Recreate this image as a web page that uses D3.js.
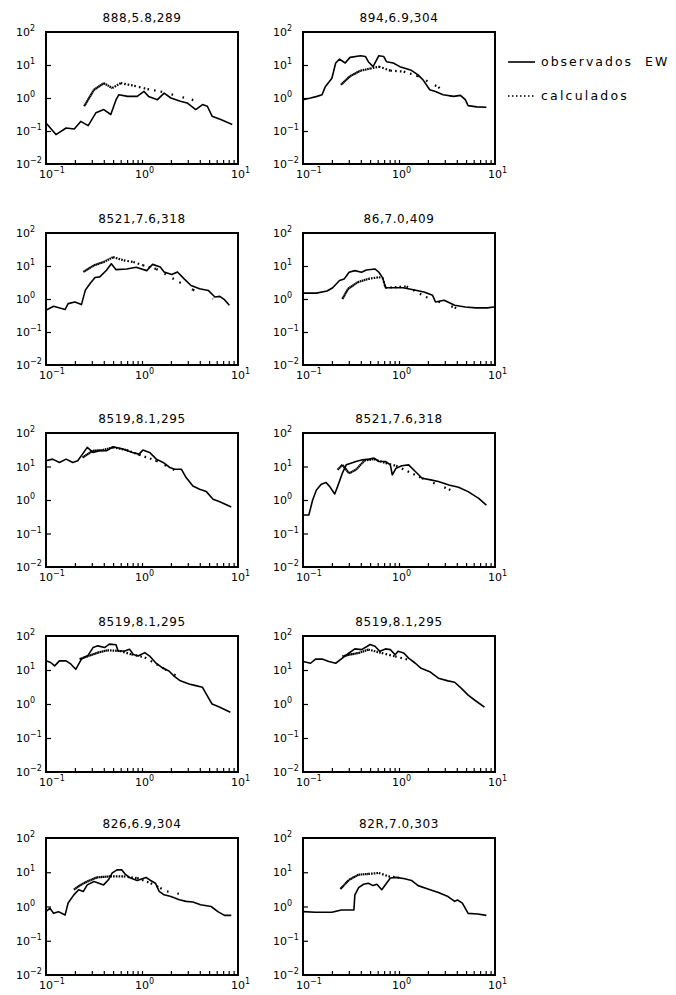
<!DOCTYPE html>
<html>
<head>
<meta charset="utf-8">
<title>espectros observados y calculados</title>
<script src="https://cdnjs.cloudflare.com/ajax/libs/d3/7.8.5/d3.min.js"></script>
<style>
  body { margin: 0; background: #fff; }
  svg { display: block; }
  text { font-family: "DejaVu Sans", sans-serif; fill: #000; }
  .frame { fill: none; stroke: #000; stroke-width: 2; }
  .obs { fill: none; stroke: #000; stroke-width: 1.6; stroke-linejoin: round; }
  .calc { fill: none; stroke: #000; stroke-width: 2.2; }
  .tick line { stroke: #000; stroke-width: 1.2; }
</style>
</head>
<body>
<script>
// panel titles, row by row
var titles = ['888,5.8,289', '894,6.9,304', '8521,7.6,318', '86,7.0,409', '8519,8.1,295',
              '8521,7.6,318', '8519,8.1,295', '8519,8.1,295', '826,6.9,304', '82R,7.0,303'];

// axis ticks
var xTickVals = [0.1, 1, 10];
var xTickExp = ['\u22121', '0', '1'];
var yTickVals = [0.01, 0.1, 1, 10, 100];
var yTickExp = ['\u22122', '\u22121', '0', '1', '2'];

// [period, amplitude]
var obs1 = [[0.1,0.175],[0.127,0.078],[0.162,0.123],[0.197,0.115],[0.23,0.195],[0.275,0.145],[0.331,0.355],[0.40,0.447],[0.473,0.316],[0.537,0.89],[0.575,1.26],[0.708,1.12],[0.891,1.12],[1.05,1.58],[1.17,1.12],[1.45,0.89],[1.70,1.41],[2.0,1.0],[2.51,0.794],[2.95,0.708],[3.63,0.447],[4.27,0.631],[4.79,0.562],[5.37,0.282],[6.61,0.224],[8.71,0.158]];
var calc1 = [[0.25,0.562],[0.316,1.78],[0.40,2.82],[0.49,2.0],[0.60,2.82],[0.83,2.34],[1.14,1.86],[1.56,1.58],[3.3,0.89],[5.1,0.59]];

var obs2 = [[0.1,0.89],[0.12,1.0],[0.14,1.12],[0.158,1.26],[0.17,2.14],[0.2,3.98],[0.219,11.5],[0.24,15.1],[0.275,11.5],[0.309,17.0],[0.398,19.1],[0.447,18.2],[0.479,12.6],[0.537,8.91],[0.617,19.1],[0.692,18.2],[0.741,12.6],[0.871,11.5],[1.02,8.91],[1.32,7.08],[1.58,5.01],[1.78,3.55],[2.09,1.78],[2.40,1.58],[2.88,1.26],[3.72,1.12],[4.37,1.20],[4.90,0.89],[5.25,0.589],[6.46,0.537],[8.13,0.525]];
var calc2 = [[0.248,2.51],[0.309,4.57],[0.398,6.76],[0.5,7.76],[0.617,8.91],[0.813,6.76],[1.12,6.31],[1.55,4.68],[2.57,2.14],[3.47,1.12]];

var obs3 = [[0.1,0.457],[0.12,0.603],[0.158,0.479],[0.17,0.724],[0.2,0.813],[0.234,0.676],[0.257,1.86],[0.288,2.95],[0.324,4.47],[0.363,4.68],[0.427,7.41],[0.479,11.7],[0.537,7.76],[0.692,8.13],[0.871,9.12],[1.12,7.24],[1.29,11.2],[1.55,9.33],[1.70,6.61],[2.04,5.50],[2.34,6.61],[2.75,4.07],[3.24,2.57],[3.98,2.04],[4.90,1.82],[5.75,1.15],[6.46,1.20],[7.24,0.955],[8.13,0.646]];
var calc3 = [[0.245,6.61],[0.316,10.5],[0.398,13.2],[0.5,18.6],[0.646,14.8],[0.813,13.2],[1.02,10.5],[1.41,8.13],[2.45,3.24],[3.39,1.91],[5.50,1.02]];

var obs4 = [[0.1,1.51],[0.138,1.51],[0.178,1.74],[0.204,2.19],[0.24,3.63],[0.269,4.07],[0.302,6.46],[0.347,7.24],[0.407,6.46],[0.457,7.59],[0.562,8.13],[0.617,6.46],[0.676,4.37],[0.724,2.19],[0.851,2.19],[1.10,2.19],[1.41,1.91],[1.82,1.62],[2.24,1.29],[2.40,0.813],[2.95,0.912],[3.80,0.646],[4.90,0.575],[6.31,0.537],[8.32,0.537],[9.77,0.575]];
var calc4 = [[0.257,1.0],[0.295,2.04],[0.372,3.24],[0.479,4.07],[0.617,4.57],[0.676,4.37],[0.724,2.19],[1.20,2.40],[1.91,1.15],[3.80,0.55],[5.75,0.407]];

var obs5 = [[0.1,14.8],[0.117,16.6],[0.138,13.2],[0.162,16.6],[0.19,13.2],[0.214,14.8],[0.24,23.4],[0.269,37.2],[0.309,26.3],[0.363,29.5],[0.427,29.5],[0.5,38.9],[0.631,33.1],[0.794,26.3],[0.933,23.4],[1.02,30.9],[1.20,26.3],[1.41,16.6],[1.66,13.2],[1.95,9.33],[2.19,8.32],[2.57,8.32],[2.88,4.68],[3.39,2.63],[3.98,2.09],[4.68,1.78],[5.50,1.05],[6.46,0.891],[8.51,0.617]];
var calc5 = [[0.24,18.6],[0.309,29.5],[0.389,30.9],[0.5,37.2],[0.692,30.9],[0.933,22.4],[1.41,14.8],[2.45,6.61]];

var obs6 = [[0.1,0.355],[0.115,0.355],[0.126,1.0],[0.138,2.0],[0.155,2.95],[0.174,3.31],[0.19,2.51],[0.214,1.51],[0.229,2.51],[0.257,6.31],[0.282,11.2],[0.316,12.6],[0.355,14.1],[0.417,15.8],[0.49,16.6],[0.55,17.8],[0.617,14.1],[0.724,14.1],[0.813,11.2],[0.851,5.62],[0.933,8.91],[1.07,10.5],[1.26,11.2],[1.48,7.08],[1.74,4.47],[2.14,3.98],[2.57,3.55],[3.31,2.82],[4.17,2.40],[5.25,1.78],[6.76,1.12],[8.13,0.708]];
var calc6 = [[0.229,7.94],[0.257,11.2],[0.302,6.31],[0.355,7.94],[0.437,15.1],[0.55,16.6],[0.724,12.6],[0.933,10.5],[1.74,4.47],[3.31,2.09],[4.90,1.17]];

var obs7 = [[0.1,18.6],[0.112,16.6],[0.123,13.2],[0.138,18.6],[0.162,18.6],[0.182,14.8],[0.204,10.5],[0.234,20.9],[0.275,27.5],[0.309,45.7],[0.347,51.3],[0.407,45.7],[0.457,57.5],[0.537,55.0],[0.562,36.3],[0.661,36.3],[0.741,40.7],[0.813,28.8],[0.912,25.7],[1.07,32.4],[1.20,25.7],[1.38,16.6],[1.62,11.7],[1.91,9.33],[2.14,6.76],[2.51,4.79],[3.09,3.89],[3.63,3.47],[4.27,3.09],[4.79,1.74],[5.37,1.0],[6.31,0.832],[8.32,0.575]];
var calc7 = [[0.224,20.9],[0.275,25.7],[0.347,32.4],[0.437,38.0],[0.589,36.3],[0.776,28.8],[1.07,23.4],[1.74,10.5],[2.51,5.75]];

var obs8 = [[0.1,17.8],[0.120,15.8],[0.135,20.9],[0.158,20.9],[0.186,17.8],[0.219,15.8],[0.257,22.4],[0.302,31.6],[0.347,41.7],[0.407,39.8],[0.468,50.1],[0.5,56.2],[0.562,50.1],[0.631,35.5],[0.724,41.7],[0.813,39.8],[0.912,28.2],[0.977,35.5],[1.12,31.6],[1.26,22.4],[1.48,15.8],[1.70,11.2],[2.09,8.91],[2.57,5.75],[3.24,4.79],[3.80,4.37],[4.47,2.88],[5.25,1.82],[6.17,1.29],[7.76,0.813]];
var calc8 = [[0.257,25.1],[0.302,28.2],[0.38,31.6],[0.479,39.8],[0.661,31.6],[0.912,25.1],[1.26,20.0]];

var obs9 = [[0.1,0.708],[0.11,0.891],[0.12,0.631],[0.135,0.708],[0.158,0.562],[0.17,1.26],[0.195,2.19],[0.219,3.09],[0.245,2.75],[0.269,4.27],[0.316,5.37],[0.355,4.79],[0.398,4.27],[0.447,6.03],[0.49,9.55],[0.55,11.7],[0.617,11.7],[0.676,8.51],[0.759,6.76],[0.891,5.75],[1.10,7.08],[1.23,5.75],[1.38,4.79],[1.51,2.75],[1.70,2.19],[2.0,1.95],[2.45,1.58],[2.88,1.41],[3.39,1.35],[4.07,1.12],[5.25,1.0],[6.17,0.708],[7.24,0.55],[8.51,0.55]];
var calc9 = [[0.195,3.09],[0.229,4.27],[0.269,5.37],[0.339,7.08],[0.468,7.59],[0.646,7.59],[0.891,6.76],[1.23,4.79],[1.55,3.47],[1.82,2.75],[2.45,2.34]];

var obs10 = [[0.1,0.708],[0.135,0.676],[0.2,0.676],[0.251,0.794],[0.339,0.794],[0.347,2.19],[0.38,3.55],[0.427,4.47],[0.479,4.79],[0.537,4.07],[0.589,4.47],[0.661,3.09],[0.741,4.79],[0.813,6.76],[0.933,7.08],[1.15,6.46],[1.35,5.75],[1.58,4.07],[2.0,3.24],[2.57,2.57],[3.24,1.95],[3.80,1.41],[4.07,1.55],[4.57,1.26],[5.25,0.631],[6.61,0.603],[8.13,0.55]];
var calc10 = [[0.245,3.24],[0.302,6.03],[0.38,8.51],[0.479,8.91],[0.617,9.55],[0.776,7.59],[1.07,6.76]];

var obsAll = [obs1, obs2, obs3, obs4, obs5, obs6, obs7, obs8, obs9, obs10];
var calcAll = [calc1, calc2, calc3, calc4, calc5, calc6, calc7, calc8, calc9, calc10];

var W = 676, H = 995;
var colX = [46, 303];
var pw = 192;
var rowY = [32, 233, 433, 636, 838];
var rowH = [132, 132, 134, 136, 137];

var svg = d3.select('body').append('svg')
    .attr('width', W)
    .attr('height', H);

titles.forEach(function(t, i) {
  var row = Math.floor(i / 2), col = i % 2;
  var x0 = colX[col], y0 = rowY[row], ph = rowH[row];

  var x = d3.scaleLog().domain([0.1, 10]).range([x0, x0 + pw]);
  var y = d3.scaleLog().domain([0.01, 100]).range([y0 + ph, y0]);

  var g = svg.append('g');

  // inner ticks, bottom: every log step; left: every decade
  var minor = x.ticks().filter(function(v) { return v > 0.1 && v < 10; });
  g.append('g')
    .attr('transform', 'translate(0,' + (y0 + ph) + ')')
    .call(d3.axisBottom(x).tickValues(minor).tickSize(-4).tickFormat(''))
    .call(function(s) { s.select('.domain').remove(); });

  g.append('g')
    .attr('transform', 'translate(' + x0 + ',0)')
    .call(d3.axisLeft(y).tickValues(yTickVals.slice(1, -1)).tickSize(-5).tickFormat(''))
    .call(function(s) { s.select('.domain').remove(); });

  var line = d3.line()
    .x(function(d) { return x(d[0]); })
    .y(function(d) { return y(d[1]); });

  // calculated curve: dots get sparser toward long periods
  var cal = calcAll[i];
  d3.pairs(cal).forEach(function(p) {
    var tm = Math.sqrt(p[0][0] * p[1][0]);
    var gap = Math.max(0.2, 5 * tm - 1.6);
    g.append('path').attr('class', 'calc')
      .attr('stroke-dasharray', '1.6,' + gap.toFixed(2))
      .attr('d', line(p));
  });

  g.append('path').attr('class', 'obs').attr('d', line(obsAll[i]));

  g.append('rect').attr('class', 'frame')
    .attr('x', x0).attr('y', y0)
    .attr('width', pw).attr('height', ph);

  g.append('text')
    .attr('x', x0 + pw / 2)
    .attr('y', y0 - 10)
    .attr('text-anchor', 'middle')
    .style('font-size', '12px')
    .style('letter-spacing', '0.6px')
    .text(t);

  // x labels: "10" centred on the tick, exponent after it
  var xl = g.selectAll('.xl').data(xTickVals).enter().append('text')
    .attr('class', 'xl')
    .attr('x', function(d) { return x(d) - 7; })
    .attr('y', y0 + ph + 14)
    .style('font-size', '11px');
  xl.append('tspan').text('10');
  xl.append('tspan').attr('dy', -5).style('font-size', '8px')
    .text(function(d, j) { return xTickExp[j]; });

  var yl = g.selectAll('.yl').data(yTickVals).enter().append('text')
    .attr('class', 'yl')
    .attr('x', x0 - 30)
    .attr('y', function(d) { return y(d) + 4; })
    .style('font-size', '11px');
  yl.append('tspan').text('10');
  yl.append('tspan').attr('dy', -5).style('font-size', '8px')
    .text(function(d, j) { return yTickExp[j]; });
});

// legend
var lg = svg.append('g').attr('transform', 'translate(508,0)');
lg.append('line').attr('class', 'obs').attr('x1', 0).attr('x2', 27).attr('y1', 62).attr('y2', 62);
lg.append('text').attr('x', 33).attr('y', 66).style('font-size', '12.5px')
  .style('letter-spacing', '2px').style('white-space', 'pre').text('observados  EW');
lg.append('line').attr('x1', 0).attr('x2', 27).attr('y1', 96).attr('y2', 96)
  .attr('stroke', '#000').attr('stroke-width', 1.6).attr('stroke-dasharray', '1.5,2.5');
lg.append('text').attr('x', 33).attr('y', 100).style('font-size', '12.5px')
  .style('letter-spacing', '2.2px').text('calculados');
</script>
</body>
</html>
